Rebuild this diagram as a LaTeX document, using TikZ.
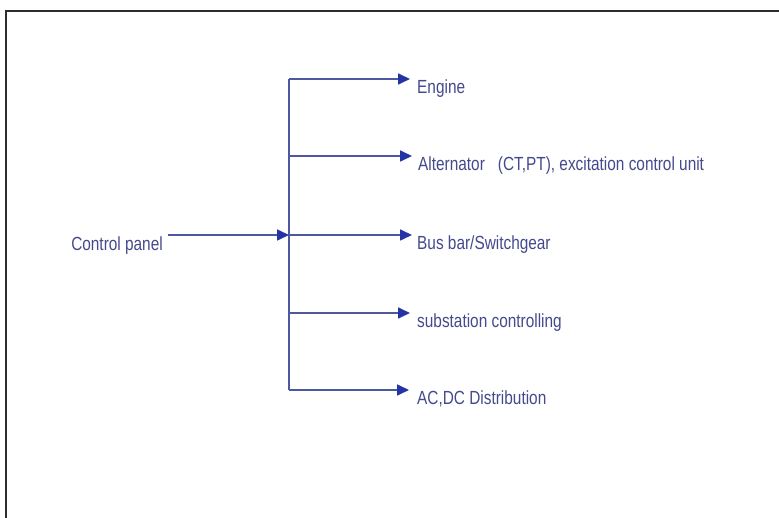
\documentclass[tikz,border=0pt]{standalone}
\usepackage{fontspec}
\setmainfont{Liberation Sans}[FakeStretch=0.81]
\usetikzlibrary{arrows.meta}
\definecolor{linec}{RGB}{78,88,160}
\definecolor{tipc}{RGB}{36,52,165}
\definecolor{textc}{RGB}{68,74,140}
\definecolor{framec}{RGB}{45,45,45}
\tikzset{
  conn/.style={draw=linec, line width=1.7pt},
  arr/.style={conn, -{Triangle[length=12pt,width=11pt,fill=tipc,color=tipc]}},
  lbl/.style={text=textc, font=\fontsize{19}{19}\selectfont, inner sep=0pt, anchor=north west},
  frame/.style={draw=framec, line width=2.8pt}
}
\begin{document}
\begin{tikzpicture}[x=1pt,y=-1pt]
\useasboundingbox (0,0) rectangle (779,518);
\fill[white] (0,0) rectangle (779,518);
% frame (cropped at right and bottom)
\draw[frame] (6,530) -- (6,11) -- (790,11);
% junction coordinates on trunk
\coordinate (j1) at (289,79);
\coordinate (j2) at (289,156);
\coordinate (j3) at (289,235);
\coordinate (j4) at (289,313);
\coordinate (j5) at (289,390);
% arrow tips
\coordinate (t1) at (410,79);
\coordinate (t2) at (412,156);
\coordinate (t3) at (412,235);
\coordinate (t4) at (410,313);
\coordinate (t5) at (409,390);
% source
\node[lbl, anchor=north east] (cp) at (163,237) {Control panel};
\coordinate (cps) at (168,235);
% targets
\node[lbl] (n1) at (417,80) {Engine};
\node[lbl] (n2) at (418,157) {Alternator\hspace{13pt}(CT,PT), excitation control unit};
\node[lbl] (n3) at (417,236) {Bus bar/Switchgear};
\node[lbl] (n4) at (417,314) {substation controlling};
\node[lbl] (n5) at (417,391) {AC,DC Distribution};
% connectors
\draw[conn] (j1) -- (j5);
\draw[arr] (cps) -- (j3);
\draw[arr] (j1) -- (t1);
\draw[arr] (j2) -- (t2);
\draw[arr] (j3) -- (t3);
\draw[arr] (j4) -- (t4);
\draw[arr] (j5) -- (t5);
\end{tikzpicture}
\end{document}
